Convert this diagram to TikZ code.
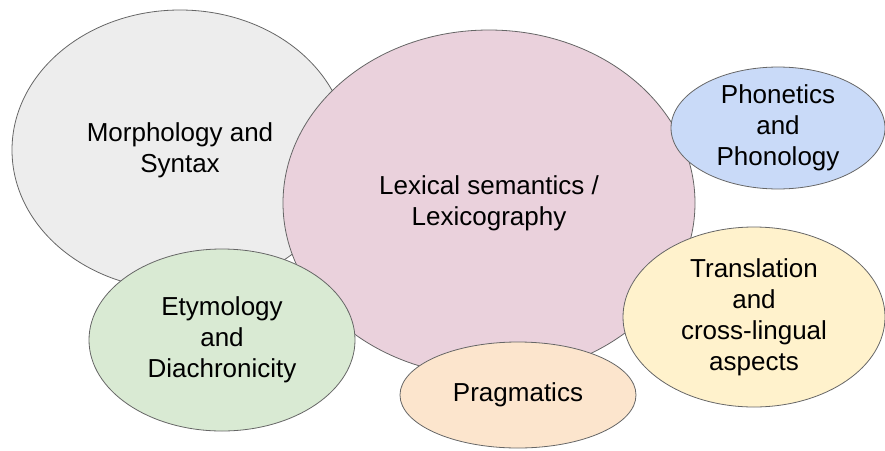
\documentclass[tikz,border=0pt]{standalone}
\usepackage{fontspec}
\setmainfont{Liberation Sans}
\usetikzlibrary{shapes.geometric}
\definecolor{morphgray}{HTML}{EDEDED}
\definecolor{lexpink}{HTML}{EAD1DC}
\definecolor{phonblue}{HTML}{C9DAF8}
\definecolor{translyellow}{HTML}{FFF2CC}
\definecolor{etymgreen}{HTML}{D9EAD3}
\definecolor{pragorange}{HTML}{FCE5CD}
\begin{document}
\begin{tikzpicture}[x=1pt,y=-1pt,
    bubble/.style={ellipse,draw=black!60,line width=0.8pt,inner sep=0pt,
        align=center,font=\fontsize{26}{31}\selectfont}]
    \useasboundingbox (0,0) rectangle (885,450);

    %bubbles, back to front
    \node[bubble,fill=morphgray,minimum width=336pt,minimum height=280pt] (morph) at (180,150) {Morphology and\\Syntax};

    \node[bubble,fill=lexpink,minimum width=412pt,minimum height=346pt] (lexsem) at (489,203) {Lexical semantics /\\Lexicography};

    \node[bubble,fill=etymgreen,minimum width=266pt,minimum height=182pt] (etym) at (222,340) {Etymology\\and\\Diachronicity};

    \node[bubble,fill=pragorange,minimum width=236pt,minimum height=106pt] (prag) at (518,395) {Pragmatics};

    \node[bubble,fill=translyellow,minimum width=262pt,minimum height=180pt] (transl) at (754,317) {Translation\\and\\cross-lingual\\aspects};

    \node[bubble,fill=phonblue,minimum width=214pt,minimum height=114pt] (phon) at (778,128) {Phonetics\\and\\Phonology};
\end{tikzpicture}
\end{document}
